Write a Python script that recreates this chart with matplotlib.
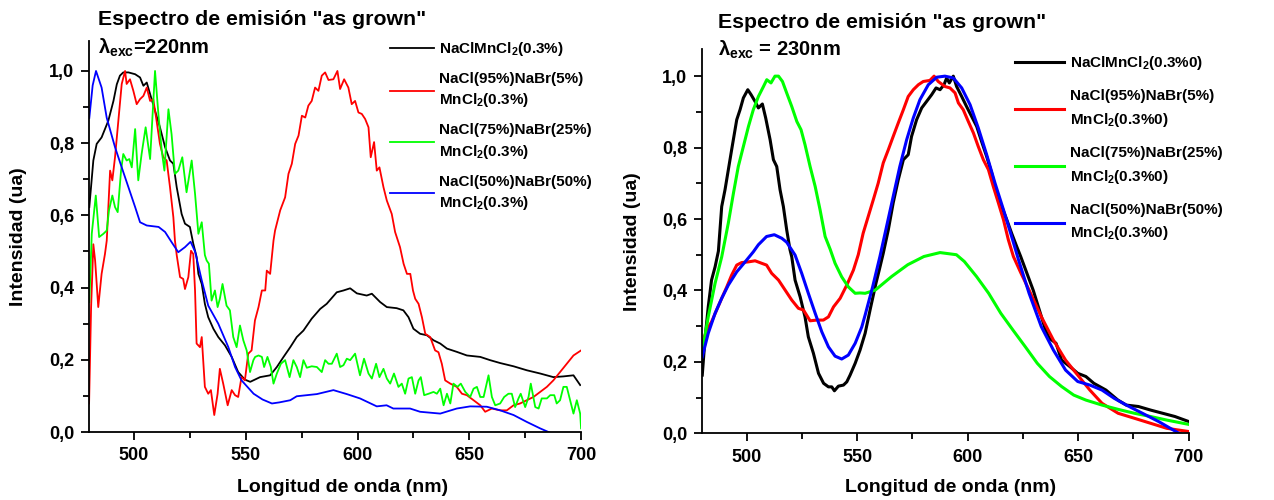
import numpy as np
import matplotlib
matplotlib.use("Agg")
from matplotlib import pyplot as plt
from matplotlib.ticker import MultipleLocator, FuncFormatter

plt.rcParams['font.family'] = ['Liberation Sans', 'DejaVu Sans']
plt.rcParams['font.weight'] = 'bold'
plt.rcParams['mathtext.fontset'] = 'custom'
plt.rcParams['mathtext.rm'] = 'Liberation Sans:bold'
plt.rcParams['mathtext.it'] = 'Liberation Sans:bold'
plt.rcParams['mathtext.bf'] = 'Liberation Sans:bold'

# --- Datos: (longitud de onda nm, intensidad normalizada) ---

# Panel izquierdo, excitacion 220 nm
negro_220 = [(480, 0.623), (481.8, 0.752), (483.3, 0.798), (485.5, 0.816), (487, 0.839), (488.5, 0.862),
             (490.8, 0.917), (492.3, 0.963), (493.7, 0.987), (495.2, 0.996), (497.5, 0.996), (500.5, 0.991),
             (502.7, 0.982), (504.2, 0.959), (505.7, 0.968), (507.2, 0.936), (509.4, 0.89), (511.6, 0.844),
             (513.9, 0.789), (516.1, 0.752), (517.6, 0.743), (519.1, 0.678), (521.3, 0.604), (522.8, 0.577),
             (525, 0.568), (526.5, 0.522), (528, 0.485), (528.8, 0.438), (530.3, 0.41), (531.7, 0.355),
             (533.2, 0.318), (535.5, 0.286), (537.7, 0.263), (540.7, 0.24), (543.7, 0.208), (546.6, 0.166),
             (549.6, 0.145), (552, 0.139), (556.4, 0.152), (560.9, 0.157), (563.9, 0.18), (566.9, 0.208),
             (569.9, 0.235), (572.8, 0.263), (575.8, 0.281), (579.5, 0.314), (583.3, 0.341), (586.2, 0.355),
             (590.7, 0.387), (593.7, 0.392), (596.7, 0.398), (599.7, 0.384), (604.1, 0.378), (606.4, 0.383),
             (610.1, 0.36), (613.1, 0.346), (617.5, 0.343), (620.5, 0.337), (622.8, 0.318), (625, 0.286),
             (628, 0.272), (631, 0.268), (634, 0.254), (637, 0.245), (640, 0.231), (644.4, 0.222),
             (648.9, 0.212), (654.9, 0.208), (659.3, 0.199), (663.8, 0.191), (669.8, 0.182), (675.7, 0.171),
             (681.7, 0.162), (687.6, 0.152), (692.1, 0.154), (696.6, 0.157), (699.6, 0.13)]

rojo_220 = [(479.9, 0.079), (480.8, 0.346), (481.8, 0.52), (482.6, 0.475), (484, 0.346), (485.5, 0.438),
            (487, 0.493), (487.8, 0.53), (489.3, 0.724), (490.3, 0.697), (491.5, 0.761), (493, 0.862),
            (494.5, 0.964), (496, 1.0), (496.7, 0.964), (498.2, 0.977), (499.7, 0.945), (501.2, 0.908),
            (502.7, 0.922), (504.2, 0.931), (505.7, 0.954), (507.2, 0.917), (508.6, 0.922), (510.1, 0.862),
            (511.6, 0.798), (513.1, 0.761), (514.6, 0.752), (516.1, 0.678), (517.6, 0.595), (518.3, 0.531),
            (519.1, 0.49), (520.6, 0.429), (522, 0.424), (522.8, 0.396), (524.3, 0.429), (525.5, 0.502),
            (526.5, 0.493), (527.3, 0.392), (528, 0.245), (529.5, 0.235), (530.3, 0.263), (531.7, 0.125),
            (533.2, 0.106), (534.4, 0.116), (535.9, 0.047), (537.4, 0.106), (538.4, 0.175), (539.9, 0.134),
            (541.9, 0.074), (543.7, 0.116), (545.2, 0.102), (546.6, 0.097), (548.1, 0.152), (549.6, 0.143),
            (551.1, 0.217), (552.6, 0.226), (554.1, 0.309), (555.7, 0.346), (557.2, 0.392), (558.7, 0.392),
            (559.4, 0.447), (560.9, 0.438), (562.4, 0.53), (563.1, 0.558), (565.4, 0.614), (567.6, 0.65),
            (569.1, 0.715), (570.6, 0.743), (572.1, 0.798), (573.6, 0.821), (575.1, 0.876), (576.6, 0.871),
            (578, 0.904), (579.5, 0.917), (581, 0.954), (582.5, 0.945), (584, 0.987), (585.5, 0.996),
            (587, 0.975), (589.2, 0.977), (591, 1.0), (592.2, 0.95), (594, 0.977), (595.9, 0.954),
            (597.4, 0.908), (598.9, 0.917), (600.4, 0.885), (601.9, 0.881), (603.4, 0.867), (604.9, 0.844),
            (605.9, 0.761), (607.4, 0.803), (608.6, 0.724), (609.8, 0.733), (611.6, 0.678), (613.1, 0.641),
            (615.3, 0.604), (616.8, 0.554), (619, 0.512), (620.6, 0.466), (622.1, 0.438), (623.6, 0.438),
            (624.8, 0.392), (625.8, 0.369), (627.3, 0.355), (628.8, 0.318), (630.3, 0.272), (632.5, 0.263),
            (634.7, 0.226), (636.2, 0.221), (637.7, 0.189), (639.2, 0.143), (641.5, 0.134), (644.4, 0.125),
            (646.7, 0.106), (648.9, 0.102), (651.9, 0.088), (654.9, 0.074), (657.1, 0.056), (660.1, 0.065),
            (663.8, 0.06), (666.8, 0.06), (669.8, 0.074), (672.7, 0.079), (675.7, 0.088), (678.7, 0.097),
            (681.7, 0.111), (684.7, 0.125), (687.6, 0.143), (690.6, 0.166), (693.6, 0.189), (696.6, 0.212),
            (700, 0.226)]

verde_220 = [(480, 0.36), (481.1, 0.549), (482.9, 0.655), (484.4, 0.54), (486.3, 0.549), (487.8, 0.558),
             (488.8, 0.614), (490.3, 0.655), (491.5, 0.623), (492.7, 0.609), (494.2, 0.724), (495.2, 0.77),
             (496.7, 0.752), (497.9, 0.756), (499, 0.733), (500.5, 0.839), (501.9, 0.697), (503.4, 0.77),
             (505.2, 0.844), (507.2, 0.756), (509.4, 1.0), (510.9, 0.881), (512.4, 0.779), (513.6, 0.724),
             (515.4, 0.894), (516.8, 0.825), (518.3, 0.715), (519.8, 0.724), (521.6, 0.761), (523.5, 0.664),
             (525.8, 0.752), (527.3, 0.66), (528.8, 0.549), (530.3, 0.581), (531.7, 0.49), (532.5, 0.475),
             (533.5, 0.466), (534.7, 0.364), (536.2, 0.392), (537.4, 0.346), (538.4, 0.369), (539.6, 0.41),
             (541.4, 0.35), (542.9, 0.337), (544.4, 0.263), (545.9, 0.235), (547.4, 0.295), (548.9, 0.254),
             (550.4, 0.226), (551.9, 0.166), (553.4, 0.199), (554.2, 0.208), (555.7, 0.212), (557.2, 0.208),
             (558.2, 0.18), (559.7, 0.208), (561.2, 0.18), (562.4, 0.134), (563.9, 0.162), (565.7, 0.189),
             (567.6, 0.199), (569.6, 0.152), (571.3, 0.199), (572.8, 0.18), (574.3, 0.152), (575.8, 0.199),
             (577.3, 0.178), (579.5, 0.182), (581.8, 0.18), (584, 0.166), (585.5, 0.199), (587, 0.189),
             (588.5, 0.189), (590.7, 0.217), (592.2, 0.18), (593.7, 0.185), (595.2, 0.203), (596.7, 0.199),
             (598.9, 0.217), (601.1, 0.157), (602.9, 0.203), (604.9, 0.162), (606.4, 0.148), (608.3, 0.189),
             (609.8, 0.152), (611.6, 0.175), (613.1, 0.148), (614.6, 0.134), (616.3, 0.162), (618.3, 0.125),
             (619.8, 0.134), (621.3, 0.106), (622.8, 0.148), (624.3, 0.152), (625.8, 0.106), (627.3, 0.143),
             (628.3, 0.152), (629.8, 0.102), (631.8, 0.106), (634, 0.111), (635.5, 0.106), (637, 0.12),
             (638.5, 0.074), (640, 0.106), (641.5, 0.079), (642.9, 0.134), (644.7, 0.125), (646.2, 0.134),
             (648.2, 0.111), (650.4, 0.097), (651.9, 0.12), (653.4, 0.125), (654.9, 0.097), (656.4, 0.097),
             (658.6, 0.157), (660.1, 0.097), (661.6, 0.074), (663.8, 0.079), (665.6, 0.097), (667.5, 0.106),
             (669, 0.106), (670.5, 0.069), (672, 0.093), (673, 0.106), (675, 0.069), (676.5, 0.097),
             (677.5, 0.134), (679.5, 0.069), (681, 0.065), (682.4, 0.093), (684.7, 0.093), (686.2, 0.102),
             (688, 0.102), (689.1, 0.079), (690.6, 0.088), (692.1, 0.125), (693.6, 0.125), (695.1, 0.088),
             (696.6, 0.051), (698.1, 0.088), (699.6, 0.051), (700, 0.01)]

azul_220 = [(480, 0.87), (481.5, 0.96), (483, 1.0), (485.5, 0.954), (487.8, 0.87), (491.5, 0.789),
            (494.5, 0.733), (497.5, 0.678), (500.5, 0.623), (502.7, 0.581), (505.7, 0.572), (511, 0.568),
            (513.9, 0.554), (516.8, 0.526), (519.8, 0.498), (522.8, 0.512), (525.3, 0.527), (527.3, 0.5),
            (530.3, 0.42), (533.2, 0.35), (537.7, 0.30), (542.2, 0.235), (545.2, 0.18), (548.1, 0.143),
            (553.5, 0.106), (557.5, 0.09), (561.7, 0.079), (565, 0.082), (569.9, 0.088), (572.8, 0.099),
            (581.8, 0.105), (589.2, 0.116), (595.2, 0.105), (601.1, 0.093), (608.6, 0.071), (613, 0.074),
            (616, 0.065), (623.5, 0.065), (628, 0.056), (637, 0.051), (644.4, 0.065), (650.4, 0.071),
            (657.8, 0.07), (663.8, 0.06), (669.8, 0.047), (675.7, 0.028), (681.7, 0.01), (686.9, -0.004),
            (693, -0.02), (700, -0.035)]

# Panel derecho, excitacion 230 nm
negro_230 = [(479.9, 0.163), (481.1, 0.261), (482.6, 0.354), (484.1, 0.429), (485.7, 0.466), (487.2, 0.51),
             (488.7, 0.635), (490.2, 0.682), (491.7, 0.738), (493.2, 0.794), (495.5, 0.878), (497, 0.906),
             (498.5, 0.939), (500.5, 0.962), (502, 0.948), (503.8, 0.929), (505.3, 0.911), (507.1, 0.922),
             (508.6, 0.883), (510.6, 0.822), (512.1, 0.766), (513.6, 0.747), (515.1, 0.682), (516.6, 0.635),
             (518.1, 0.57), (519.6, 0.514), (520.4, 0.494), (521.9, 0.429), (524.2, 0.382), (526.4, 0.326),
             (527.9, 0.27), (530.2, 0.224), (532.5, 0.168), (534.8, 0.14), (537, 0.13), (538.5, 0.13),
             (539.7, 0.119), (541.5, 0.132), (543.8, 0.135), (545.3, 0.144), (546.8, 0.163), (549.1, 0.196),
             (551.3, 0.233), (553.6, 0.28), (556, 0.35), (558.5, 0.42), (560.1, 0.46), (561.8, 0.504),
             (564.1, 0.57), (566.3, 0.645), (568.6, 0.71), (570.9, 0.766), (573.1, 0.78), (574.6, 0.831),
             (576.9, 0.878), (579.2, 0.911), (581.4, 0.929), (583.7, 0.948), (585.7, 0.967), (587.5, 0.962),
             (589.3, 0.976), (590.5, 0.995), (591.7, 0.981), (593.5, 1.0), (595, 0.971), (597.3, 0.943),
             (599.5, 0.915), (601.8, 0.887), (604.1, 0.859), (606.3, 0.817), (608.6, 0.775), (610.9, 0.728),
             (613.1, 0.672), (615.4, 0.635), (617.7, 0.598), (619.9, 0.56), (622.2, 0.523), (624, 0.495),
             (629.7, 0.40), (635.2, 0.29), (637, 0.266), (640, 0.252), (642.5, 0.205), (646.2, 0.187),
             (649.8, 0.168), (653.5, 0.159), (657.1, 0.14), (662.6, 0.121), (668, 0.093), (671.8, 0.079),
             (677.3, 0.075), (682.8, 0.065), (688.3, 0.056), (693.8, 0.047), (700, 0.033)]

rojo_230 = [(479.9, 0.252), (481.9, 0.289), (484.1, 0.312), (486.4, 0.345), (488.7, 0.378), (491, 0.41),
            (493.2, 0.443), (495.5, 0.471), (497.7, 0.478), (500.8, 0.48), (503.8, 0.483), (506.8, 0.476),
            (509, 0.471), (511.3, 0.448), (514.4, 0.429), (517.4, 0.401), (520.4, 0.373), (523.4, 0.35),
            (525.7, 0.345), (528.7, 0.315), (531.7, 0.317), (534.7, 0.317), (537, 0.326), (539.3, 0.354),
            (542.3, 0.378), (545.3, 0.415), (548.3, 0.457), (550.5, 0.5), (552.7, 0.56), (555, 0.607),
            (557.3, 0.654), (559.5, 0.7), (561.8, 0.757), (564.1, 0.794), (566.3, 0.831), (568.6, 0.869),
            (570.9, 0.906), (573.1, 0.943), (575.4, 0.962), (577.7, 0.976), (579.9, 0.985), (582.9, 0.988),
            (584.8, 1.0), (586.7, 0.985), (589.7, 0.971), (592, 0.967), (594.3, 0.953), (595.8, 0.925),
            (598, 0.906), (600.3, 0.873), (602.6, 0.841), (604.8, 0.803), (607.1, 0.766), (609.4, 0.738),
            (611.6, 0.691), (613.9, 0.645), (616.2, 0.598), (618.4, 0.542), (620.7, 0.495), (624, 0.45),
            (627.8, 0.401), (633.3, 0.327), (638.8, 0.261), (644.3, 0.205), (649.8, 0.163), (655.3, 0.121),
            (660.8, 0.084), (668.1, 0.056), (675.5, 0.042), (682.8, 0.028), (690.1, 0.014), (700, 0.005)]

verde_230 = [(480, 0.233), (482.6, 0.326), (485.7, 0.42), (488.7, 0.494), (491.7, 0.589), (494, 0.672),
             (496.2, 0.747), (498.5, 0.803), (500.8, 0.859), (503, 0.906), (505.3, 0.943), (507.6, 0.971),
             (509.1, 0.99), (511, 0.981), (512.8, 1.0), (514.4, 1.0), (516.2, 0.985), (518.1, 0.953),
             (520.4, 0.915), (522.7, 0.873), (524.6, 0.85), (526.4, 0.808), (528.7, 0.747), (531, 0.691),
             (533.2, 0.626), (535.5, 0.551), (537.8, 0.515), (540, 0.476), (543, 0.438), (546, 0.41),
             (549.1, 0.392), (551.3, 0.393), (553.6, 0.392), (558.2, 0.401), (565.6, 0.439), (572.9, 0.472),
             (580.2, 0.495), (587.5, 0.506), (594.9, 0.5), (598.5, 0.481), (604, 0.439), (609.5, 0.392),
             (615, 0.336), (620.5, 0.289), (626, 0.243), (631.5, 0.196), (637, 0.159), (642.5, 0.131),
             (648, 0.107), (653.5, 0.093), (660.8, 0.079), (668.1, 0.067), (675.5, 0.056), (682.8, 0.047),
             (690.1, 0.037), (700, 0.025)]

azul_230 = [(479.9, 0.214), (482.6, 0.28), (485.7, 0.336), (488.7, 0.378), (491.7, 0.415), (495.5, 0.452),
            (499.3, 0.48), (503, 0.508), (505.3, 0.528), (509, 0.551), (512.5, 0.556), (515.9, 0.546),
            (518.1, 0.535), (521.9, 0.499), (524.9, 0.448), (527.9, 0.392), (531, 0.336), (534, 0.284),
            (537, 0.242), (540, 0.216), (543, 0.208), (546, 0.219), (549.1, 0.252), (552.1, 0.298),
            (553.6, 0.331), (557, 0.41), (560.3, 0.495), (563.3, 0.579), (566.3, 0.663), (569.3, 0.747),
            (572.4, 0.822), (575.4, 0.883), (578.4, 0.934), (582.2, 0.976), (586, 0.997), (589.7, 1.0),
            (593.5, 0.995), (597.3, 0.967), (601.1, 0.92), (604.8, 0.855), (608.6, 0.78), (612.4, 0.7),
            (616.2, 0.626), (619.9, 0.551), (623, 0.486), (627.8, 0.392), (633.3, 0.299), (638.8, 0.233),
            (644.3, 0.177), (649.8, 0.145), (655.3, 0.135), (660.8, 0.121), (666.3, 0.098), (671.8, 0.079),
            (679.1, 0.056), (686.4, 0.033), (695.6, 0.0), (700, -0.01)]

etiquetas_220 = ['NaClMnCl$_2$(0.3%)',
                 'NaCl(95%)NaBr(5%)\nMnCl$_2$(0.3%)',
                 'NaCl(75%)NaBr(25%)\nMnCl$_2$(0.3%)',
                 'NaCl(50%)NaBr(50%)\nMnCl$_2$(0.3%)']
etiquetas_230 = ['NaClMnCl$_2$(0.3%0)',
                 'NaCl(95%)NaBr(5%)\nMnCl$_2$(0.3%0)',
                 'NaCl(75%)NaBr(25%)\nMnCl$_2$(0.3%0)',
                 'NaCl(50%)NaBr(50%)\nMnCl$_2$(0.3%0)']
colores = ['#000000', '#ff0000', '#00ff00', '#0000ff']

titulo = 'Espectro de emisión "as grown"'


def coma(v, pos):
    return f'{v:.1f}'.replace('.', ',')


def dibujar_panel(ax, series, etiquetas, grosor, ymax, texto_exc, y_titulo, y_exc, x_txt, x_xlabel,
                  pos_legend, largo_linea, interlinea, sep_entradas):
    for datos, color, etiqueta in zip(series, colores, etiquetas):
        x, y = np.array(datos).T
        ax.plot(x, y, color=color, lw=grosor, label=etiqueta)
    ax.set_xlim(480, 700)
    ax.set_ylim(0, ymax)
    ax.spines['top'].set_visible(False)
    ax.spines['right'].set_visible(False)
    ax.spines['left'].set_linewidth(1.3)
    ax.spines['bottom'].set_linewidth(1.3)
    ax.xaxis.set_major_locator(MultipleLocator(50))
    ax.xaxis.set_minor_locator(MultipleLocator(25))
    ax.yaxis.set_major_locator(MultipleLocator(0.2))
    ax.yaxis.set_minor_locator(MultipleLocator(0.1))
    ax.yaxis.set_major_formatter(FuncFormatter(coma))
    ax.tick_params(which='major', direction='out', length=6, width=1.3, labelsize=13, pad=5)
    ax.tick_params(which='minor', direction='out', length=4, width=1.3)

    # etiquetas de ejes
    ax.set_xlabel('Longitud de onda (nm)', fontsize=14, fontweight='bold')
    ax.set_ylabel('Intensidad (ua)', fontsize=14, fontweight='bold')
    ax.xaxis.set_label_coords(x_xlabel, -0.141)
    ax.yaxis.set_label_coords(-0.144, 0.5)
    ax.xaxis.label.set_va('center')
    ax.yaxis.label.set_va('center')

    # titulo y longitud de onda de excitacion
    ax.text(x_txt, y_titulo, titulo, transform=ax.transAxes, fontsize=15.3,
            fontweight='bold', va='center', ha='left')
    ax.text(x_txt, y_exc, texto_exc, transform=ax.transAxes, fontsize=14.5,
            fontweight='bold', va='center', ha='left')

    leg = ax.legend(loc='upper left', bbox_to_anchor=pos_legend, bbox_transform=ax.figure.transFigure,
                    frameon=False, fontsize=11, handlelength=largo_linea, handletextpad=0.35,
                    labelspacing=sep_entradas, borderaxespad=0, borderpad=0)
    for t in leg.get_texts():
        t.set_linespacing(interlinea)


fig = plt.figure(figsize=(12.74, 5.0), dpi=100)
ax1 = fig.add_axes([0.0701, 0.136, 0.386, 0.782])
ax2 = fig.add_axes([0.5514, 0.1334, 0.3816, 0.7686])

dibujar_panel(ax1, [negro_220, rojo_220, verde_220, azul_220], etiquetas_220, 1.3, 1.083,
              r'$\lambda_{exc}$=220nm', 1.054, 0.982, 0.018, 0.515,
              (0.306, 0.92), 2.9, 1.39, 0.93)
dibujar_panel(ax2, [negro_230, rojo_230, verde_230, azul_230], etiquetas_230, 2.2, 1.076,
              r'$\lambda_{exc}$ = 230nm', 1.07, 0.997, 0.031, 0.51,
              (0.797, 0.892), 3.2, 1.58, 1.13)

fig.savefig('out.png', dpi=100)
